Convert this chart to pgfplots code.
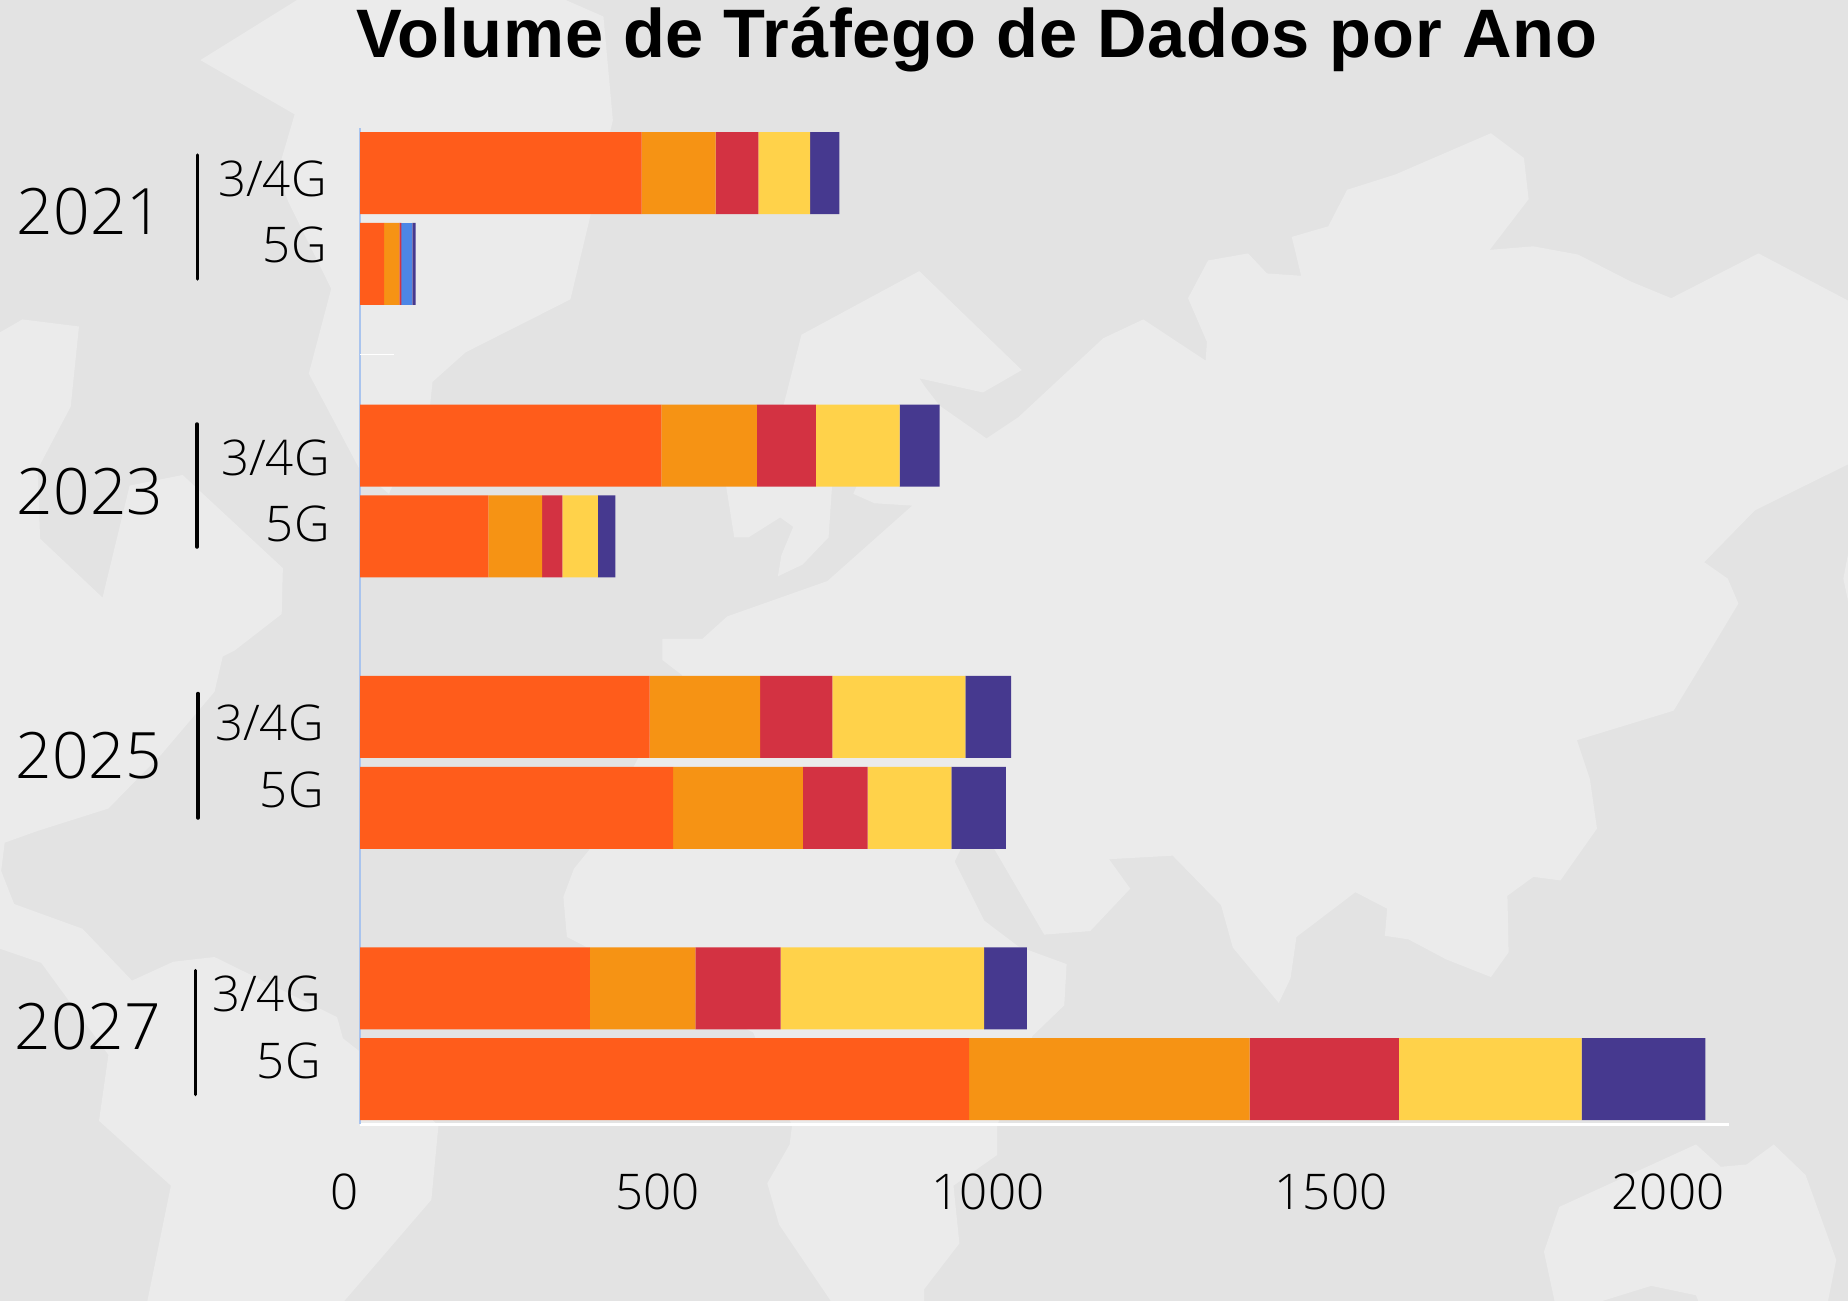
\documentclass[border=0pt]{standalone}
\usepackage{fontspec}
\usepackage{pgfplots}
\usepackage{pgfplotstable}
\pgfplotsset{compat=1.18}
\setmainfont{Liberation Sans}
\newfontfamily\titlef{Liberation Sans}[LetterSpace=1.2]
\newfontfamily\lightf{Open Sans Light}
\definecolor{bgdark}{HTML}{E3E3E3}
\definecolor{bglight}{HTML}{EBEBEB}
\definecolor{corange}{HTML}{FF5C1B}
\definecolor{camber}{HTML}{F69314}
\definecolor{cred}{HTML}{D33242}
\definecolor{cyellow}{HTML}{FFD24A}
\definecolor{cblue}{HTML}{4C86E6}
\definecolor{cnavy}{HTML}{46398F}
\definecolor{caxis}{HTML}{A9C4EE}
\newcommand\shiftlab[2]{\hspace*{#1}#2\hspace*{-#1}}
\newcommand\yearfont{\lightf\fontsize{32}{36}\selectfont}
\newcommand\labfont{\lightf\fontsize{24.6}{28}\selectfont}
% pos: row position; columns: orange, amber, red, yellow, blue, navy
\pgfplotstableread{
pos    a    b    c    d    e    f
9.968  430  113  65   79   0    45
8.968  37   23   3    0    17   5
6.97   460  146  90   128  0    61
5.97   196  82   31   54   0    27
3.985  442  169  110  203  0    70
2.985  478  198  99   128  0    83
1      351  161  130  311  0    65
0      930  428  228  279  0    189
}\trafego
\begin{document}
\begin{tikzpicture}[x=0.5pt,y=-0.5pt]
\useasboundingbox (0,0) rectangle (1848,1301);
\fill[bgdark] (0,0) rectangle (1848,1301);
\begin{scope}[x=0.5893pt,y=-0.5893pt,bglight]
\clip (0,0) rectangle (1568,1104);
% North America
\fill (252,0)--(170,51)--(250,97)--(235,148)--(245,172)--(281,245)--(262,317)--(305,398)--(330,419)--(365,343)--(367,324)--(395,299)--(484,254)--(500,187)--(520,102)--(512,14)--(480,0)--cycle;
% Eurasia and Africa
\fill (680,284)--(780,230)--(867,314)--(834,333)--(780,321)--(784,327)--(797,344)--(837,372)--(864,354)--(936,287)--(970,271)--(1023,306)--(1024,290)--(1008,253)--(1025,221)--(1059,215)--(1075,232)--(1104,234)--(1096,201)--(1127,192)--(1143,161)--(1184,148)--(1265,113)--(1293,134)--(1297,169)--(1264,212)--(1301,209)--(1339,216)--(1384,239)--(1418,253)--(1492,215)--(1568,255)--(1568,394)--(1489,433)--(1446,477)--(1466,491)--(1475,512)--(1451,552)--(1420,603)--(1338,628)--(1349,661)--(1355,703)--(1324,747)--(1301,744)--(1279,760)--(1280,808)--(1265,829)--(1227,814)--(1195,797)--(1175,794)--(1177,771)--(1150,757)--(1100,795)--(1095,830)--(1085,851)--(1046,804)--(1036,768)--(995,726)--(941,729)--(959,754)--(925,790)--(886,793)--(844,721)--(825,700)--(810,731)--(835,781)--(864,803)--(905,818)--(903,853)--(876,879)--(846,955)--(846,980)--(809,1006)--(814,1055)--(784,1094)--(784,1110)--(705,1110)--(705,1104)--(661,1039)--(651,1004)--(670,971)--(672,955)--(639,876)--(481,795)--(478,761)--(487,737)--(500,721)--(579,573)--(562,560)--(562,542)--(596,542)--(617,523)--(702,493)--(774,429)--(742,427)--(724,419)--(727,412)--(706,412)--(703,456)--(681,479)--(660,489)--(663,471)--(673,447)--(662,439)--(635,456)--(623,456)--(616,412)--(665,343)--cycle;
% Left land and South America
\fill (0,282)--(19,271)--(67,277)--(60,345)--(32,398)--(34,457)--(87,507)--(110,412)--(155,403)--(240,482)--(239,521)--(199,552)--(189,557)--(182,587)--(137,640)--(92,686)--(32,705)--(4,715)--(1,739)--(12,767)--(70,788)--(112,832)--(147,816)--(182,812)--(286,863)--(291,881)--(305,892)--(372,955)--(366,1018)--(292,1104)--(125,1104)--(145,1006)--(84,951)--(92,895)--(35,817)--(0,805)--cycle;
% Australia
\fill (1439,971)--(1460,990)--(1482,988)--(1505,971)--(1532,997)--(1558,1069)--(1551,1104)--(1441,1104)--(1439,1099)--(1401,1091)--(1359,1104)--(1319,1104)--(1310,1062)--(1323,1024)--cycle;
\fill (1568,470)--(1564,491)--(1568,510)--cycle;
\end{scope}
\node[anchor=base west,inner sep=0pt] at (356,57) {\titlef\bfseries\fontsize{34.3}{38}\selectfont Volume de Tráfego de Dados por Ano};
\begin{axis}[
  at={(180pt,-562.1pt)},anchor=south west,
  scale only axis,width=684.5pt,height=498.1pt,
  xbar stacked,bar width=41pt,bar shift=0pt,
  xmin=0,xmax=2090,ymin=-0.495,ymax=10.463,
  axis x line=bottom,axis y line=left,
  x axis line style={white,line width=1.5pt,-},
  y axis line style={caxis,line width=1pt,-},
  ytick=\empty,
  xtick={0,500,1000,1500,2000},
  xticklabels={\shiftlab{-7.5pt}{0},\shiftlab{-15pt}{500},\shiftlab{-13.5pt}{1000},\shiftlab{-5.75pt}{1500},\shiftlab{-1pt}{2000}},
  major tick length=0pt,
  x tick label style={anchor=base,yshift=-42.5pt,font=\labfont,text=black},
  clip=false,
]
\addplot[fill=corange,draw=none] table[y=pos,x=a]{\trafego};
\addplot[fill=camber,draw=none] table[y=pos,x=b]{\trafego};
\addplot[fill=cred,draw=none] table[y=pos,x=c]{\trafego};
\addplot[fill=cyellow,draw=none] table[y=pos,x=d]{\trafego};
\addplot[fill=cblue,draw=none] table[y=pos,x=e]{\trafego};
\addplot[fill=cnavy,draw=none] table[y=pos,x=f]{\trafego};
\end{axis}
\draw[white,line width=0.5pt] (360,354)--(394,354);
% group labels
\foreach \yr/\xl/\by/\sx/\st/\sb/\lx/\la/\lb in {
 2021/16.6/234/197.5/155/279/327/196/262,
 2023/16.6/514/197/424/547/330/475/541,
 2025/15.3/778.5/198/693.5/818/324/740/807,
 2027/14.1/1049/195.5/970.5/1094.5/321/1011.5/1078}{
  \node[anchor=base west,inner sep=0pt] at (\xl,\by) {\yearfont\yr};
  \draw[black,line width=1.75pt,line cap=round] (\sx,\st)--(\sx,\sb);
  \node[anchor=base east,inner sep=0pt] at (\lx,\la) {\labfont 3/4G};
  \node[anchor=base east,inner sep=0pt] at (\lx,\lb) {\labfont 5G};
}
\end{tikzpicture}
\end{document}
